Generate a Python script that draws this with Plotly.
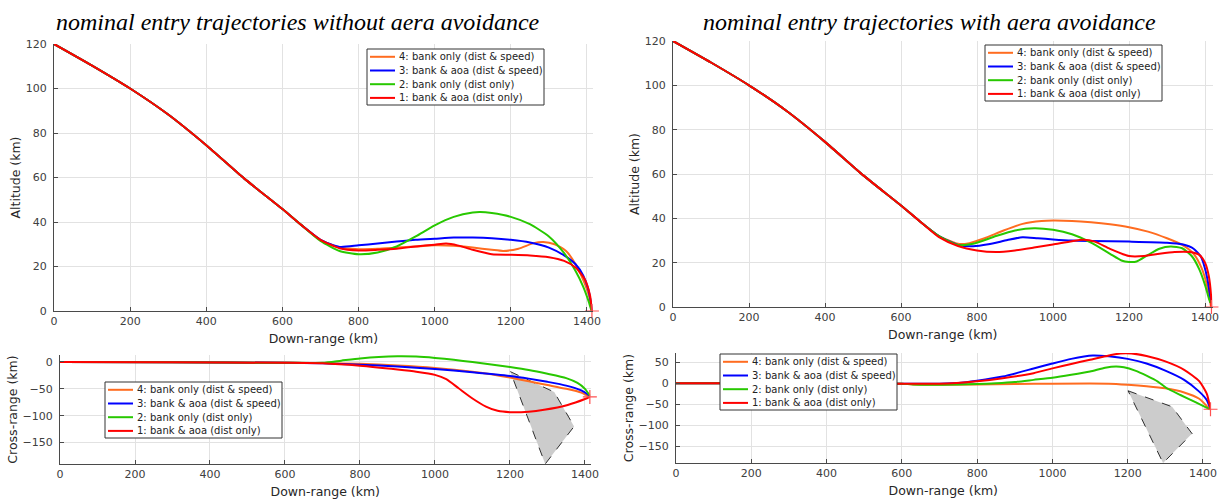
import plotly.graph_objects as go

W, H = 1225, 499

# ---------------- data ----------------
names = ["4: bank only (dist & speed)", "3: bank & aoa (dist & speed)",
         "2: bank only (dist only)", "1: bank & aoa (dist only)"]
colors = ["rgb(255,108,32)", "rgb(0,0,255)", "rgb(40,200,0)", "rgb(255,0,0)"]

# common initial descent (down-range km, altitude km)
descent_x = [0, 100, 200, 300, 400, 500, 600, 650]
descent_alt = [120, 110.3, 100, 88.3, 74.5, 59.5, 45.8, 38.6]

# --- without area avoidance: altitude ---
lt_orange_x = [700, 750, 800, 850, 900, 950, 1000, 1050, 1100, 1150, 1180, 1220, 1260, 1285, 1315, 1345, 1370, 1390, 1405, 1413]
lt_orange_y = [32, 28.5, 27.8, 28, 28.5, 29, 29.5, 29.3, 28.5, 27.5, 27, 28, 30.5, 31, 30, 27, 21, 14, 7, 0]
lt_blue_x = [700, 750, 800, 850, 900, 950, 1000, 1050, 1100, 1150, 1200, 1250, 1300, 1340, 1370, 1390, 1403, 1410, 1413]
lt_blue_y = [32, 28.8, 29.5, 30.3, 31.2, 32, 32.5, 33, 33, 32.7, 32, 30.8, 28.5, 25, 21, 16, 10, 4, 0]
lt_green_x = [700, 750, 800, 850, 900, 950, 1000, 1050, 1100, 1120, 1150, 1200, 1250, 1300, 1340, 1370, 1390, 1405, 1412]
lt_green_y = [31.5, 27, 25.5, 26.3, 29, 33.5, 38.5, 42.3, 44.3, 44.5, 44, 42.3, 39, 33.5, 26, 18, 11, 4, 0]
lt_red_x = [700, 750, 800, 850, 900, 950, 1000, 1030, 1060, 1100, 1150, 1200, 1250, 1300, 1340, 1370, 1395, 1408, 1413]
lt_red_y = [32, 28.2, 27.2, 27.5, 28, 29, 29.8, 30.3, 29.5, 27.5, 25.5, 25.3, 25, 24.2, 22.5, 19.5, 14, 7, 0]

# --- with area avoidance: altitude ---
rt_orange_x = [700, 750, 780, 820, 870, 920, 970, 1000, 1050, 1100, 1150, 1200, 1250, 1300, 1340, 1370, 1390, 1405, 1416]
rt_orange_y = [32, 28.5, 28.8, 31, 34.5, 37.5, 38.8, 39, 38.8, 38.2, 37.3, 36, 34, 31, 28, 24, 18, 10, 0]
rt_blue_x = [700, 750, 790, 830, 880, 920, 960, 1000, 1050, 1100, 1200, 1300, 1340, 1370, 1390, 1402, 1410, 1415]
rt_blue_y = [32, 28, 27.4, 28.3, 30.2, 31.5, 31, 30.5, 30, 29.8, 29.5, 29, 28.3, 26.3, 22.5, 16, 9, 2]
rt_green_x = [700, 750, 790, 850, 900, 950, 1000, 1050, 1100, 1150, 1180, 1200, 1220, 1250, 1280, 1310, 1340, 1365, 1385, 1400, 1410, 1414]
rt_green_y = [32, 28, 28.5, 32, 34.5, 35.5, 34.8, 32.8, 29, 24, 21, 20.3, 20.5, 23.5, 26.3, 27.3, 26.5, 23, 17, 10, 4, 2]
rt_red_x = [700, 750, 800, 850, 900, 950, 1000, 1050, 1080, 1110, 1150, 1200, 1240, 1280, 1320, 1360, 1385, 1400, 1410, 1416, 1417]
rt_red_y = [31.5, 27.5, 25.5, 24.8, 25.5, 26.8, 28.2, 29.7, 30.3, 29.5, 26.2, 23, 23, 24, 24.8, 24.8, 23.5, 20, 14, 5, 0]

# common initial ground track (down-range km, cross-range km)
lb_common_x = [0, 300, 600]
lb_common_y = [0, -0.5, -1.5]
rb_common_x = [0, 300, 600]
rb_common_y = [0, 0, -1]

# --- without area avoidance: cross-range ---
lb_orange_x = [700, 800, 900, 1000, 1100, 1150, 1200, 1250, 1300, 1350, 1390, 1413]
lb_orange_y = [-2, -3.5, -6.5, -11, -18, -23, -29, -36, -43, -50, -57, -65]
lb_blue_x = [700, 800, 900, 1000, 1100, 1200, 1250, 1300, 1350, 1390, 1413]
lb_blue_y = [-2.5, -5, -8.5, -13, -19, -26, -31, -37, -44, -53, -63]
lb_green_x = [700, 750, 800, 850, 900, 950, 1000, 1050, 1100, 1150, 1200, 1250, 1300, 1350, 1380, 1400, 1413]
lb_green_y = [-1.5, 2.5, 6.5, 9.3, 10.5, 10, 7.5, 4, 0, -4.5, -9.5, -15, -22, -30, -39, -50, -63]
lb_red_x = [700, 800, 900, 950, 1000, 1030, 1063, 1100, 1136, 1167, 1200, 1250, 1291, 1354, 1400, 1413]
lb_red_y = [-2.5, -7, -14, -18, -24, -32, -49, -68, -83, -91, -93.5, -92.5, -89, -80, -69, -65]

# --- with area avoidance: cross-range ---
rb_orange_x = [630, 800, 900, 1000, 1150, 1200, 1250, 1300, 1350, 1390, 1418]
rb_orange_y = [-3, -3, -2, -1, -1, -3.5, -7, -12, -22, -37, -62]
rb_blue_x = [700, 765, 800, 868, 950, 1000, 1050, 1107, 1150, 1200, 1250, 1300, 1350, 1390, 1410, 1418]
rb_blue_y = [-1, 2, 6, 16, 35, 47, 58, 66, 64, 58, 47, 30, 8, -20, -40, -57]
rb_green_x = [630, 750, 800, 850, 900, 950, 1000, 1050, 1100, 1140, 1169, 1190, 1220, 1250, 1280, 1304, 1340, 1380, 1418]
rb_green_y = [-3, -3, -2, 0, 3, 8, 13, 20, 28, 37, 40, 38, 30, 18, 4, -12, -28, -45, -62]
rb_red_x = [700, 800, 868, 950, 1003, 1050, 1100, 1150, 1180, 1210, 1250, 1300, 1350, 1390, 1410, 1420]
rb_red_y = [-1, 5, 12, 24, 36, 46, 56, 66, 71, 71, 65, 52, 32, 5, -25, -62]

# no-fly zone polygon
zone_x = [1201, 1318, 1371, 1294, 1201]
zone_y = [-18, -56, -120, -190, -18]

# axis ticks
x_ticks = [0, 200, 400, 600, 800, 1000, 1200, 1400]
alt_ticks = [0, 20, 40, 60, 80, 100, 120]
lb_ticks = [-150, -100, -50, 0]
rb_ticks = [-150, -100, -50, 0, 50]

titles = ["nominal entry trajectories without aera avoidance",
          "nominal entry trajectories with aera avoidance"]

# ---------------- figure ----------------
fig = go.Figure()


def px_x(p):
    return p / W


def px_y(p):
    return 1 - p / H


panels = [
    ("", descent_x, descent_alt,
     [(lt_orange_x, lt_orange_y), (lt_blue_x, lt_blue_y), (lt_green_x, lt_green_y), (lt_red_x, lt_red_y)], False),
    ("2", lb_common_x, lb_common_y,
     [(lb_orange_x, lb_orange_y), (lb_blue_x, lb_blue_y), (lb_green_x, lb_green_y), (lb_red_x, lb_red_y)], True),
    ("3", descent_x, descent_alt,
     [(rt_orange_x, rt_orange_y), (rt_blue_x, rt_blue_y), (rt_green_x, rt_green_y), (rt_red_x, rt_red_y)], False),
    ("4", rb_common_x, rb_common_y,
     [(rb_orange_x, rb_orange_y), (rb_blue_x, rb_blue_y), (rb_green_x, rb_green_y), (rb_red_x, rb_red_y)], True),
]

for suf, cx, cy, series, has_zone in panels:
    xa, ya = "x" + suf, "y" + suf
    if has_zone:
        fig.add_trace(go.Scatter(x=zone_x, y=zone_y, xaxis=xa, yaxis=ya, mode="lines",
                                 fill="toself", fillcolor="rgb(204,204,204)",
                                 line=dict(color="black", width=0.8, dash="dash"),
                                 showlegend=False, hoverinfo="skip"))
    for (sx, sy), nm, col in zip(series, names, colors):
        fig.add_trace(go.Scatter(x=cx + sx, y=cy + sy, xaxis=xa, yaxis=ya, mode="lines",
                                 name=nm, showlegend=False,
                                 line=dict(color=col, width=2, shape="spline", smoothing=0.6)))
    rx, ry = series[3]
    fig.add_trace(go.Scatter(x=[rx[-1]], y=[ry[-1]], xaxis=xa, yaxis=ya, mode="markers",
                             marker=dict(symbol="cross-thin", size=10,
                                         line=dict(color="rgb(255,80,80)", width=1.2)),
                             showlegend=False, cliponaxis=False, hoverinfo="skip"))

tickfont = dict(family="DejaVu Sans", size=11, color="#404040")
titlefont = dict(family="DejaVu Sans", size=12.5, color="#262626")


def xaxis(dom, rng, anchor):
    return dict(domain=dom, range=rng, anchor=anchor, tickvals=x_ticks,
                showline=True, linecolor="#4a4a4a", linewidth=1, ticks="inside", ticklen=4,
                tickcolor="#4a4a4a", showgrid=True, gridcolor="#e2e2e2", zeroline=False,
                tickfont=tickfont, automargin=False,
                title=dict(text="Down-range (km)", font=titlefont, standoff=7))


def yaxis(dom, rng, anchor, ticks, title):
    return dict(domain=dom, range=rng, anchor=anchor, tickvals=ticks,
                showline=True, linecolor="#4a4a4a", linewidth=1, ticks="inside", ticklen=4,
                tickcolor="#4a4a4a", showgrid=True, gridcolor="#e2e2e2", zeroline=False,
                tickfont=tickfont, automargin=False, ticklabelstandoff=4,
                title=dict(text=title, font=titlefont, standoff=2))


# legend boxes (top-left corner in pixels) for the four panels
legend_corners = [(367, 49), (105, 382), (985, 45), (720, 354)]
LEG_W, LEG_H, LEG_STEP = 177, 56, 13.7

shapes = []
annotations = []
for (L, T) in legend_corners:
    shapes.append(dict(type="rect", xref="paper", yref="paper", layer="above",
                       x0=px_x(L), x1=px_x(L + LEG_W), y0=px_y(T + LEG_H), y1=px_y(T),
                       line=dict(color="#333333", width=1), fillcolor="white"))
    for i, (nm, col) in enumerate(zip(names, colors)):
        yc = T + 7.8 + LEG_STEP * i
        shapes.append(dict(type="line", xref="paper", yref="paper", layer="above",
                           x0=px_x(L + 3), x1=px_x(L + 28), y0=px_y(yc), y1=px_y(yc),
                           line=dict(color=col, width=2)))
        annotations.append(dict(text=nm, x=px_x(L + 30), y=px_y(yc), xref="paper", yref="paper",
                                showarrow=False, xanchor="left", yanchor="middle",
                                font=dict(family="DejaVu Sans", size=10, color="#222222")))

for txt, cx in zip(titles, [298, 929]):
    annotations.append(dict(text=txt, x=px_x(cx), y=px_y(22), xref="paper", yref="paper",
                            showarrow=False, xanchor="center", yanchor="middle",
                            font=dict(family="Liberation Serif", size=24, style="italic", color="black")))

fig.update_layout(
    width=W, height=H, margin=dict(l=0, r=0, t=0, b=0),
    paper_bgcolor="white", plot_bgcolor="white", showlegend=False,
    xaxis=xaxis([px_x(54), px_x(592.7)], [0, 1415], "y"),
    yaxis=yaxis([px_y(311), px_y(44)], [0, 120], "x", alt_ticks, "Altitude (km)"),
    xaxis2=xaxis([px_x(60), px_x(590.6)], [0, 1415], "y2"),
    yaxis2=yaxis([px_y(464), px_y(355)], [-190, 13], "x2", lb_ticks, "Cross-range (km)"),
    xaxis3=xaxis([px_x(673), px_x(1212.6)], [0, 1420], "y3"),
    yaxis3=yaxis([px_y(307), px_y(41)], [0, 120], "x3", alt_ticks, "Altitude (km)"),
    xaxis4=xaxis([px_x(676), px_x(1210.5)], [0, 1420], "y4"),
    yaxis4=yaxis([px_y(463), px_y(353)], [-190, 72], "x4", rb_ticks, "Cross-range (km)"),
    shapes=shapes,
    annotations=annotations,
)

fig.write_html("out.html")
